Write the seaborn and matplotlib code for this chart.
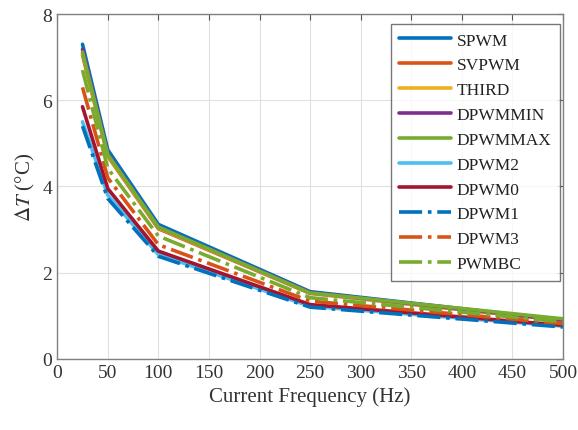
import matplotlib
matplotlib.use("Agg")
import matplotlib.pyplot as plt
import seaborn as sns
import pandas as pd

freq = [25, 50, 100, 250, 500]
names = ["SPWM", "SVPWM", "THIRD", "DPWMMIN", "DPWMMAX", "DPWM2", "DPWM0", "DPWM1", "DPWM3", "PWMBC"]
spwm    = [7.30, 4.85, 3.12, 1.56, 0.90]
svpwm   = [7.05, 4.70, 3.02, 1.52, 0.89]
third   = [7.10, 4.72, 3.04, 1.53, 0.90]
dpwmmin = [7.18, 4.76, 3.06, 1.54, 0.90]
dpwmmax = [7.12, 4.74, 3.06, 1.53, 0.93]
dpwm2   = [5.50, 3.80, 2.42, 1.22, 0.76]
dpwm0   = [5.85, 3.95, 2.50, 1.26, 0.78]
dpwm1   = [5.40, 3.72, 2.38, 1.20, 0.74]
dpwm3   = [6.30, 4.20, 2.65, 1.34, 0.82]
pwmbc   = [6.70, 4.42, 2.85, 1.42, 0.86]
series = [spwm, svpwm, third, dpwmmin, dpwmmax, dpwm2, dpwm0, dpwm1, dpwm3, pwmbc]

colors = ["#0072BD", "#D95319", "#EDB120", "#7E2F8E", "#77AC30", "#4DBEEE", "#A2142F",
          "#0072BD", "#D95319", "#77AC30"]
styles = ["-"] * 7 + ["-."] * 3

sns.set_style("white")
plt.rcParams["font.family"] = ["Liberation Serif", "DejaVu Serif"]
plt.rcParams["mathtext.fontset"] = "stix"

fig = plt.figure(figsize=(5.78, 4.31), dpi=100)
ax = fig.add_axes([0.099, 0.165, 0.875, 0.80])

for name, vals, c, ls in zip(names, series, colors, styles):
    df = pd.DataFrame({"f": freq, "dT": vals})
    sns.lineplot(data=df, x="f", y="dT", ax=ax, color=c, linestyle=ls, linewidth=2.6, label=name)

ax.set_xlim(0, 500)
ax.set_ylim(0, 8)
ax.set_xticks(range(0, 501, 50))
ax.set_yticks([0, 2, 4, 6, 8])
ax.grid(True, color="#e0e0e0", linewidth=0.8)
for s in ax.spines.values():
    s.set_color("#808080")
    s.set_linewidth(1.0)
ax.tick_params(direction="in", top=True, right=True, length=4, color="#555555",
               labelsize=14, labelcolor="#333333")
ax.set_xlabel("Current Frequency (Hz)", fontsize=15, color="#333333")
ax.set_ylabel(r"$\Delta T$ (°C)", fontsize=15, color="#333333")

leg = ax.legend(loc="upper right", bbox_to_anchor=(0.994, 0.972), fontsize=12.5,
                frameon=True, fancybox=False, edgecolor="#555555", handlelength=3.0,
                handletextpad=0.3, labelspacing=0.5, borderaxespad=0.0, borderpad=0.5)
leg.get_frame().set_linewidth(1.0)
for t in leg.get_texts():
    t.set_color("#222222")

fig.savefig("out.png", dpi=100)
